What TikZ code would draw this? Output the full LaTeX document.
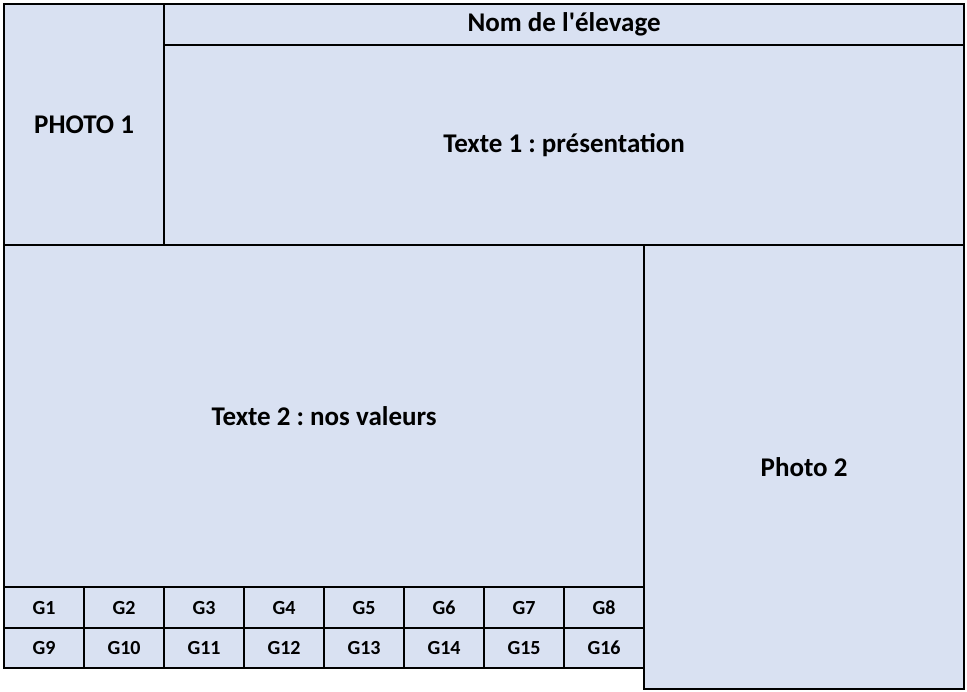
\documentclass[tikz,border=0pt]{standalone}
\usepackage{fontspec}
\setmainfont{Carlito}[Ligatures=TeXOff]
\frenchspacing
\definecolor{cellblue}{HTML}{D9E1F2}
\tikzset{
	cell/.style={draw, line width=2.2pt, fill=cellblue, inner sep=0pt, anchor=north west, font=\bfseries\fontsize{27}{32}\selectfont},
	gcell/.style={cell, minimum width=80pt, font=\bfseries\fontsize{20}{24}\selectfont}
}
\begin{document}
\begin{tikzpicture}[x=1pt, y=-1pt]
		\useasboundingbox(0, 0)rectangle(967, 692);
		\node[cell, minimum width=160pt, minimum height=241pt](photoA)at(3, 3){PHOTO 1};
		\node[cell, minimum width=800pt, minimum height=41pt](nom)at(163, 3){Nom de l'élevage};
		\node[cell, minimum width=800pt, minimum height=200pt](texteA)at(163, 44){Texte 1 : présentation};
		\node[cell, minimum width=640pt, minimum height=342pt](texteB)at(3, 244){Texte 2 : nos valeurs};
		\node[cell, minimum width=320pt, minimum height=444pt](photoB)at(643, 244){Photo 2};
		\foreach \i in {1,...,8}{
			\pgfmathtruncatemacro\j{\i+8}
			\node[gcell, minimum height=41pt](g\i)at({3+80*(\i-1)}, 586){G\i};
			\node[gcell, minimum height=40pt](g\j)at({3+80*(\i-1)}, 627){G\j};
		}
	\end{tikzpicture}
\end{document}
